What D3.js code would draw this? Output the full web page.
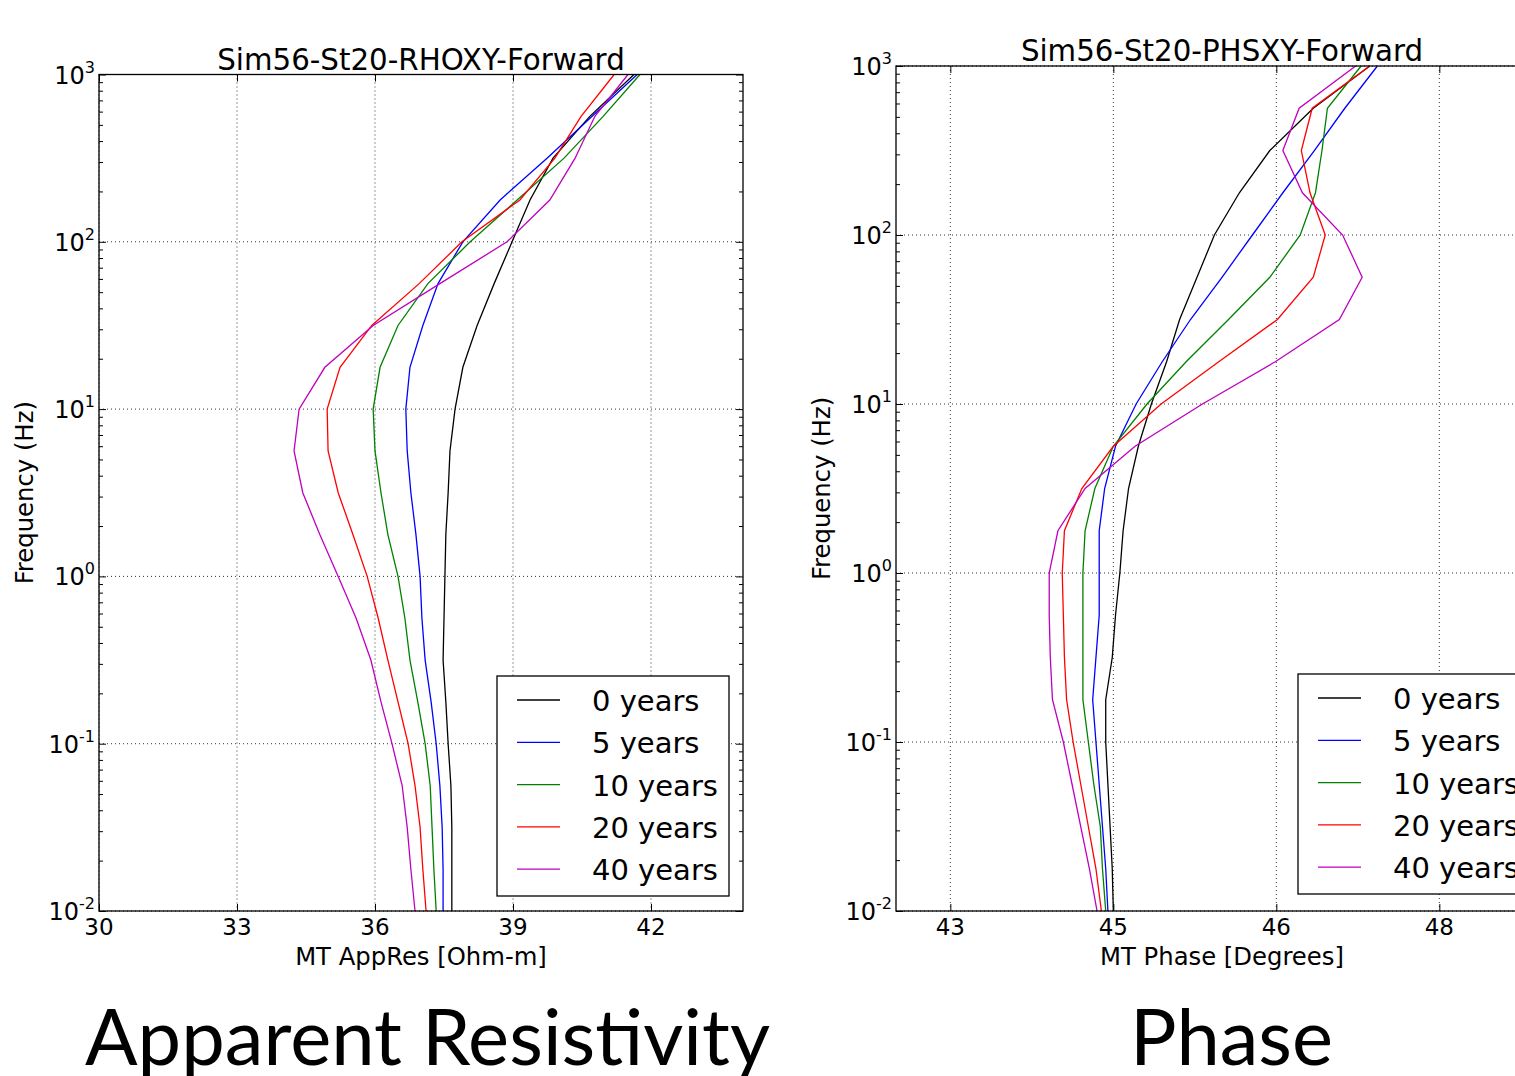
<!DOCTYPE html>
<html>
<head>
<meta charset="utf-8">
<script src="https://cdn.jsdelivr.net/npm/d3@7"></script>
<style>
  body { margin: 0; background: #fff; overflow: hidden; }
  text { fill: #000; }
</style>
</head>
<body>
<script>
// frequencies (Hz), 4 per decade
const freqs = [1000, 562.3, 316.2, 177.8, 100, 56.23, 31.62, 17.78, 10, 5.623, 3.162,
               1.778, 1, 0.5623, 0.3162, 0.1778, 0.1, 0.05623, 0.03162, 0.01778, 0.01];

const years = ['0 years', '5 years', '10 years', '20 years', '40 years'];
const colors = ['#000000', '#0000ff', '#008000', '#ff0000', '#bf00bf'];

// apparent resistivity (Ohm-m)
const rho0  = [41.63, 40.67, 39.87, 39.37, 38.98, 38.59, 38.22, 37.91, 37.74, 37.63, 37.59,
               37.54, 37.52, 37.50, 37.48, 37.54, 37.59, 37.65, 37.67, 37.67, 37.67];
const rho5  = [41.70, 40.72, 39.74, 38.72, 37.91, 37.37, 37.04, 36.76, 36.67, 36.70, 36.78,
               36.89, 36.98, 37.02, 37.09, 37.22, 37.33, 37.41, 37.46, 37.48, 37.48];
const rho10 = [41.76, 40.96, 40.11, 39.09, 38.07, 37.15, 36.50, 36.11, 35.96, 36.00, 36.13,
               36.28, 36.50, 36.65, 36.76, 36.93, 37.09, 37.20, 37.24, 37.28, 37.33];
const rho20 = [41.20, 40.48, 39.91, 39.15, 37.89, 36.96, 35.93, 35.24, 34.96, 34.98, 35.20,
               35.52, 35.83, 36.07, 36.28, 36.50, 36.72, 36.87, 36.98, 37.04, 37.11];
const rho40 = [41.50, 40.78, 40.35, 39.80, 38.87, 37.41, 35.96, 34.91, 34.35, 34.24, 34.43,
               34.80, 35.20, 35.59, 35.91, 36.13, 36.37, 36.59, 36.70, 36.78, 36.87];

// phase (degrees)
const phs0  = [47.36, 46.84, 46.44, 46.16, 45.93, 45.77, 45.61, 45.49, 45.35, 45.23, 45.14,
               45.09, 45.06, 45.02, 44.99, 44.93, 44.93, 44.95, 44.97, 44.99, 45.00];
const phs5  = [47.43, 47.13, 46.85, 46.56, 46.28, 46.00, 45.71, 45.45, 45.21, 45.02, 44.92,
               44.87, 44.87, 44.87, 44.84, 44.81, 44.84, 44.87, 44.90, 44.93, 44.95];
const phs10 = [47.28, 46.97, 46.92, 46.86, 46.72, 46.44, 46.06, 45.67, 45.31, 45.00, 44.83,
               44.74, 44.72, 44.72, 44.72, 44.72, 44.77, 44.82, 44.88, 44.90, 44.93];
const phs20 = [47.36, 46.83, 46.73, 46.81, 46.95, 46.84, 46.51, 45.97, 45.44, 45.00, 44.71,
               44.55, 44.53, 44.54, 44.55, 44.57, 44.63, 44.70, 44.77, 44.84, 44.89];
const phs40 = [47.23, 46.71, 46.56, 46.74, 47.11, 47.29, 47.08, 46.49, 45.82, 45.20, 44.74,
               44.49, 44.41, 44.41, 44.42, 44.44, 44.54, 44.62, 44.70, 44.78, 44.85];

const rhoTicks = [30, 33, 36, 39, 42];
const rhoTickLabels = ['30', '33', '36', '39', '42'];
const phsTicks = [43.5, 45, 46.5, 48];
const phsTickLabels = ['43', '45', '46', '48'];
const freqTicks = [1000, 100, 10, 1, 0.1, 0.01];
const freqTickExp = ['3', '2', '1', '0', '-1', '-2'];

const plotFont = '"DejaVu Sans", sans-serif';

const svg = d3.select('body').append('svg')
    .attr('width', 1515)
    .attr('height', 1076)
    .style('font-family', plotFont);

svg.append('rect').attr('width', 1515).attr('height', 1076).attr('fill', '#fff');

function drawPanel(p) {
    const x = d3.scaleLinear().domain(p.xDomain).range([p.left, p.right]);
    const y = d3.scaleLog().domain([0.01, 1000]).range([p.bottom, p.top]);
    const g = svg.append('g');

    // grid
    g.selectAll('.vgrid').data(p.xTicks).enter().append('line')
        .attr('x1', d => x(d)).attr('x2', d => x(d))
        .attr('y1', p.top).attr('y2', p.bottom)
        .attr('stroke', '#000').attr('stroke-width', 0.8)
        .attr('stroke-dasharray', '1,3');
    g.selectAll('.hgrid').data(freqTicks).enter().append('line')
        .attr('x1', p.left).attr('x2', p.right)
        .attr('y1', d => y(d)).attr('y2', d => y(d))
        .attr('stroke', '#000').attr('stroke-width', 0.8)
        .attr('stroke-dasharray', '1,3');

    // curves
    const line = d3.line()
        .x(d => x(d[0]))
        .y(d => y(d[1]));
    p.series.forEach((vals, i) => {
        g.append('path')
            .datum(vals.map((v, j) => [v, freqs[j]]))
            .attr('d', line)
            .attr('fill', 'none')
            .attr('stroke', colors[i])
            .attr('stroke-width', 1.3);
    });

    // ticks (inward, all four sides)
    const minor = y.ticks().filter(d => freqTicks.indexOf(d) < 0);
    const addAxis = (axis, tx, ty) => {
        const a = g.append('g').attr('transform', `translate(${tx},${ty})`).call(axis);
        a.select('.domain').remove();
        a.selectAll('text').remove();
        a.selectAll('line').attr('stroke', '#000').attr('stroke-width', 1);
    };
    addAxis(d3.axisLeft(y).tickValues(freqTicks).tickSize(-7), p.left, 0);
    addAxis(d3.axisLeft(y).tickValues(minor).tickSize(-4), p.left, 0);
    addAxis(d3.axisRight(y).tickValues(freqTicks).tickSize(-7), p.right, 0);
    addAxis(d3.axisRight(y).tickValues(minor).tickSize(-4), p.right, 0);
    addAxis(d3.axisBottom(x).tickValues(p.xTicks).tickSize(-7), 0, p.bottom);
    addAxis(d3.axisTop(x).tickValues(p.xTicks).tickSize(-7), 0, p.top);

    // frame
    g.append('rect')
        .attr('x', p.left).attr('y', p.top)
        .attr('width', p.right - p.left).attr('height', p.bottom - p.top)
        .attr('fill', 'none').attr('stroke', '#000').attr('stroke-width', 1.3);

    // x tick labels
    g.selectAll('.xlab').data(p.xTicks).enter().append('text')
        .attr('x', d => x(d)).attr('y', p.bottom + 24)
        .attr('text-anchor', 'middle')
        .attr('font-size', 23)
        .text((d, i) => p.xTickLabels[i]);

    // y tick labels 10^n
    const yl = g.selectAll('.ylab').data(freqTicks).enter().append('text')
        .attr('x', p.left - 4).attr('y', d => y(d) + 9)
        .attr('text-anchor', 'end')
        .attr('font-size', 24);
    yl.append('tspan').text('10');
    yl.append('tspan').attr('font-size', 16).attr('dy', -11)
        .text((d, i) => freqTickExp[i]);

    // titles and labels
    g.append('text')
        .attr('x', (p.left + p.right) / 2 + p.titleDx).attr('y', p.top - 5)
        .attr('text-anchor', 'middle').attr('font-size', 29.3)
        .text(p.title);
    g.append('text')
        .attr('x', (p.left + p.right) / 2 + p.titleDx).attr('y', 965)
        .attr('text-anchor', 'middle').attr('font-size', 24.3)
        .text(p.xLabel);
    g.append('text')
        .attr('transform', `translate(${p.left - 66},${(p.top + p.bottom) / 2}) rotate(-90)`)
        .attr('text-anchor', 'middle').attr('font-size', 24.3)
        .text('Frequency (Hz)');

    // legend
    const lg = g.append('g').attr('transform', `translate(${p.legendX},${p.legendY})`);
    lg.append('rect')
        .attr('width', 232).attr('height', 220)
        .attr('fill', '#fff').attr('stroke', '#000').attr('stroke-width', 1.3);
    years.forEach((name, i) => {
        const cy = 24 + i * 42.3;
        lg.append('line')
            .attr('x1', 20).attr('x2', 63).attr('y1', cy).attr('y2', cy)
            .attr('stroke', colors[i]).attr('stroke-width', 1.3);
        lg.append('text')
            .attr('x', 95).attr('y', cy + 11)
            .attr('font-size', 29)
            .text(name);
    });

    // big caption under the panel
    svg.append('text')
        .attr('x', p.capX).attr('y', 1065)
        .style('font-family', 'Lato, "Open Sans", sans-serif')
        .attr('font-size', 78)
        .attr('textLength', p.capW)
        .attr('lengthAdjust', 'spacingAndGlyphs')
        .text(p.caption);
}

drawPanel({
    left: 99, right: 743, top: 74.5, bottom: 911,
    xDomain: [30, 44], xTicks: rhoTicks, xTickLabels: rhoTickLabels,
    title: 'Sim56-St20-RHOXY-Forward', xLabel: 'MT AppRes [Ohm-m]', titleDx: 0,
    series: [rho0, rho5, rho10, rho20, rho40],
    legendX: 497, legendY: 676,
    caption: 'Apparent Resistivity', capX: 85, capW: 685
});

drawPanel({
    left: 896, right: 1548, top: 66, bottom: 911,
    xDomain: [43, 49], xTicks: phsTicks, xTickLabels: phsTickLabels,
    title: 'Sim56-St20-PHSXY-Forward', xLabel: 'MT Phase [Degrees]', titleDx: 0,
    series: [phs0, phs5, phs10, phs20, phs40],
    legendX: 1298, legendY: 674,
    caption: 'Phase', capX: 1130, capW: 203
});
</script>
</body>
</html>
